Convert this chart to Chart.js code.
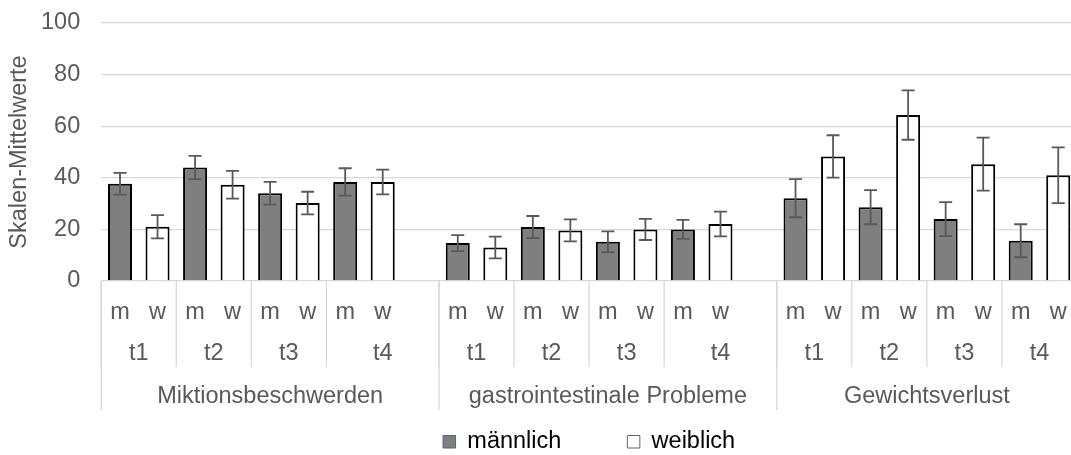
<!DOCTYPE html>
<html>
<head>
<meta charset="utf-8">
<script src="https://cdn.jsdelivr.net/npm/chart.js@4.4.1/dist/chart.umd.min.js"></script>
<style>
  body { margin: 0; overflow: hidden; background: #fff; }
  #wrap { width: 1077px; height: 455px; }
</style>
</head>
<body>
<div id="wrap"><canvas id="skalenChart"></canvas></div>
<script>
// Data
const problems = ['Miktionsbeschwerden', 'gastrointestinale Probleme', 'Gewichtsverlust'];
const timepoints = ['t1', 't2', 't3', 't4'];
const sexes = ['m', 'w'];
const yTicks = [0, 20, 40, 60, 80, 100];

// per problem, t1..t4
const maleMeans   = [37.7, 44.0, 34.0, 38.4,  14.7, 20.9, 15.2, 20.0,  32.1, 28.6, 24.0, 15.6];
const femaleMeans = [21.0, 37.3, 30.2, 38.4,  13.0, 19.6, 20.0, 22.1,  48.3, 64.3, 45.3, 41.0];
const maleErr     = [4.2, 4.5, 4.4, 5.3,  3.1, 4.3, 4.05, 3.7,  7.4, 6.6, 6.6, 6.4];
const femaleErr   = [4.5, 5.4, 4.4, 4.8,  4.2, 4.25, 4.1, 4.8,  8.2, 9.55, 10.3, 10.8];

const FONT = '"Liberation Sans", Arial, sans-serif';
const TEXT_GREY = '#595959';
const LINE_GREY = '#d9d9d9';

// ::::: build the flat category list (with an empty slot after each problem) :::::
const categoryLabels = [];
const categoryInfo = [];
const maleData = [];
const femaleData = [];
const maleErrData = [];
const femaleErrData = [];
problems.forEach((p, pi) => {
    timepoints.forEach((t, ti) => {
        const k = pi * timepoints.length + ti;
        sexes.forEach((s, si) => {
            categoryLabels.push(s);
            categoryInfo.push({ pi: pi, ti: ti });
            maleData.push(si === 0 ? maleMeans[k] : null);
            femaleData.push(si === 1 ? femaleMeans[k] : null);
            maleErrData.push(si === 0 ? maleErr[k] : null);
            femaleErrData.push(si === 1 ? femaleErr[k] : null);
        });
        if (ti === timepoints.length - 1 && pi < problems.length - 1) {
            categoryLabels.push('');
            categoryInfo.push({ pi: pi, ti: ti });
            maleData.push(null);
            femaleData.push(null);
            maleErrData.push(null);
            femaleErrData.push(null);
        }
    });
});

// ::::: error bars :::::
const errorBarPlugin = {
    id: 'errorBars',
    afterDatasetsDraw(chart) {
        const ctx = chart.ctx;
        const ys = chart.scales.y;
        const errs = [maleErrData, femaleErrData];
        ctx.save();
        ctx.strokeStyle = TEXT_GREY;
        ctx.lineWidth = 1.8;
        chart.data.datasets.forEach((ds, d) => {
            const meta = chart.getDatasetMeta(d);
            meta.data.forEach((bar, i) => {
                const v = ds.data[i];
                if (v === null) return;
                const e = errs[d][i];
                const x = bar.x;
                const yTop = ys.getPixelForValue(v + e);
                const yBot = ys.getPixelForValue(v - e);
                ctx.beginPath();
                ctx.moveTo(x, yTop); ctx.lineTo(x, yBot);
                ctx.moveTo(x - 6.5, yTop); ctx.lineTo(x + 6.5, yTop);
                ctx.moveTo(x - 6.5, yBot); ctx.lineTo(x + 6.5, yBot);
                ctx.stroke();
            });
        });
        ctx.restore();
    }
};

// ::::: multi level category axis :::::
const multiAxisPlugin = {
    id: 'multiAxis',
    afterDraw(chart) {
        const ctx = chart.ctx;
        const xs = chart.scales.x;
        const top = chart.chartArea.bottom;
        const half = (xs.getPixelForValue(1) - xs.getPixelForValue(0)) / 2;
        ctx.save();
        ctx.font = '23.5px ' + FONT;
        ctx.fillStyle = TEXT_GREY;
        ctx.textAlign = 'center';
        ctx.textBaseline = 'middle';

        // m / w row
        categoryLabels.forEach((lab, i) => {
            if (lab) ctx.fillText(lab, xs.getPixelForValue(i), top + 31.5);
        });

        // spans for time points and problems
        const timeSpans = [];
        const problemSpans = [];
        categoryInfo.forEach((c, i) => {
            const key = c.pi + '-' + c.ti;
            let ts = timeSpans[timeSpans.length - 1];
            if (!ts || ts.key !== key) timeSpans.push({ key: key, ti: c.ti, from: i, to: i });
            else ts.to = i;
            let ps = problemSpans[problemSpans.length - 1];
            if (!ps || ps.pi !== c.pi) problemSpans.push({ pi: c.pi, from: i, to: i });
            else ps.to = i;
        });

        ctx.strokeStyle = LINE_GREY;
        ctx.lineWidth = 1.3;
        timeSpans.forEach(s => {
            const x0 = xs.getPixelForValue(s.from) - half;
            const x1 = xs.getPixelForValue(s.to) + half;
            ctx.fillText(timepoints[s.ti], (x0 + x1) / 2, top + 73);
            ctx.beginPath(); ctx.moveTo(x0, top); ctx.lineTo(x0, top + 86); ctx.stroke();
        });
        problemSpans.forEach(s => {
            const x0 = xs.getPixelForValue(s.from) - half;
            const x1 = xs.getPixelForValue(s.to) + half;
            ctx.fillText(problems[s.pi], (x0 + x1) / 2, top + 116);
            ctx.beginPath(); ctx.moveTo(x0, top); ctx.lineTo(x0, top + 129); ctx.stroke();
            if (s.pi === problems.length - 1) {
                ctx.beginPath(); ctx.moveTo(x1, top); ctx.lineTo(x1, top + 129); ctx.stroke();
            }
        });
        ctx.restore();
    }
};

Chart.defaults.font.family = FONT;
Chart.defaults.font.size = 23.5;
Chart.defaults.color = TEXT_GREY;

var ctx = document.getElementById('skalenChart');
var skalenChart = new Chart(ctx, {
    type: 'bar',
    data: {
        labels: categoryLabels,
        datasets: [{
            label: 'männlich',
            data: maleData,
            backgroundColor: '#7f7f7f',
            borderColor: '#000000',
            borderWidth: 2,
            grouped: false
        }, {
            label: 'weiblich',
            data: femaleData,
            backgroundColor: '#ffffff',
            borderColor: '#000000',
            borderWidth: 2,
            grouped: false
        }]
    },
    options: {
        responsive: true,
        maintainAspectRatio: false,
        animation: false,
        categoryPercentage: 0.64,
        barPercentage: 1,
        layout: { padding: { top: 23, right: 0, left: 0, bottom: 0 } },
        scales: {
            x: {
                ticks: { display: false },
                grid: { display: false },
                border: { display: false },
                afterFit: (scale) => { scale.height = 83; }
            },
            y: {
                min: 0,
                max: 100,
                afterBuildTicks: (scale) => { scale.ticks = yTicks.map(v => ({ value: v })); },
                ticks: { padding: 0, color: TEXT_GREY, font: { size: 23.5 } },
                grid: { color: LINE_GREY, lineWidth: 1.3, drawTicks: true, tickLength: 21, tickColor: 'rgba(0,0,0,0)' },
                border: { display: false },
                title: {
                    display: true,
                    text: 'Skalen-Mittelwerte',
                    color: TEXT_GREY,
                    font: { size: 23.5 },
                    padding: { top: 5, bottom: 0 }
                },
                afterFit: (scale) => { scale.width = 101.25; }
            }
        },
        plugins: {
            tooltip: { enabled: false },
            legend: {
                position: 'bottom',
                fullSize: false,
                maxHeight: 91,
                labels: {
                    color: '#1a1a1a',
                    font: { size: 23.5 },
                    boxWidth: 12.5,
                    boxHeight: 12.5,
                    padding: 66,
                    generateLabels: (chart) => chart.data.datasets.map((ds, i) => ({
                        text: ds.label,
                        fillStyle: ds.backgroundColor,
                        strokeStyle: '#52658a',
                        lineWidth: 1,
                        hidden: false,
                        datasetIndex: i
                    }))
                }
            }
        }
    },
    plugins: [errorBarPlugin, multiAxisPlugin]
});
</script>
</body>
</html>
